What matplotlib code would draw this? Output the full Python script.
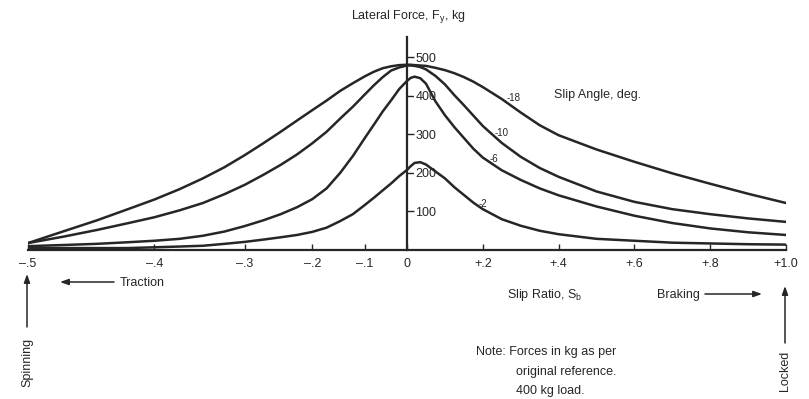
import numpy as np
import matplotlib
matplotlib.use("Agg")
import matplotlib.pyplot as plt

plt.rcParams['font.family'] = ['Liberation Sans', 'DejaVu Sans']
plt.rcParams['mathtext.fontset'] = 'custom'
plt.rcParams['mathtext.rm'] = 'Liberation Sans'

# ---- data ----
slip_ratio = [-0.5, -0.475, -0.45, -0.425, -0.4, -0.375, -0.35, -0.325, -0.3, -0.275,
              -0.25, -0.225, -0.2, -0.175, -0.15, -0.125, -0.1, -0.08, -0.06, -0.04,
              -0.02, 0.0, 0.01, 0.02, 0.035, 0.05, 0.075, 0.1, 0.125, 0.15,
              0.175, 0.2, 0.25, 0.3, 0.35, 0.4, 0.5, 0.6, 0.7, 0.8, 0.9, 1.0]
force_m18 = [18, 49, 77, 105, 131, 158, 186, 215, 246, 277,
             307, 336, 363, 388, 413, 433, 451, 463, 472, 477,
             480, 481, 481, 480, 479, 478, 473, 467, 459, 449,
             437, 423, 392, 357, 324, 298, 261, 229, 199, 172, 146, 122]
force_m10 = [18, 35, 52, 69, 85, 103, 122, 145, 169, 195,
             221, 248, 277, 307, 341, 372, 404, 428, 449, 466,
             474, 479, 479, 478, 475, 469, 452, 430, 402, 376,
             349, 322, 278, 242, 213, 190, 152, 125, 106, 93, 82, 73]
force_m6 = [10, 13, 16, 20, 24, 29, 37, 48, 62, 77,
            93, 111, 132, 160, 200, 244, 291, 326, 360, 389,
            418, 439, 447, 450, 446, 432, 386, 350, 319, 291,
            263, 240, 207, 182, 160, 142, 113, 89, 70, 56, 46, 39]
force_m2 = [5, 5, 5, 5, 7, 9, 11, 16, 21, 27,
            33, 39, 47, 58, 75, 93, 117, 136, 155, 173,
            192, 208, 218, 226, 228, 222, 204, 186, 163, 143,
            123, 106, 80, 63, 50, 41, 29, 24, 19, 17, 15, 14]
series = [("-18", force_m18), ("-10", force_m10), ("-6", force_m6), ("-2", force_m2)]

x_ticks = [-0.5, -0.4, -0.3, -0.2, -0.1, 0.0, 0.2, 0.4, 0.6, 0.8, 1.0]
x_tick_labels = ["\u2013.5", "\u2013.4", "\u2013.3", "\u2013.2", "\u2013.1", "0",
                 "+.2", "+.4", "+.6", "+.8", "+1.0"]
y_ticks = [100, 200, 300, 400, 500]
y_tick_labels = ["100", "200", "300", "400", "500"]

# curve label positions (slip ratio, force) in data units
curve_label_pos = {"-18": (0.28, 395), "-10": (0.25, 305), "-6": (0.23, 235), "-2": (0.2, 120)}

W, H = 809, 399
ink = '#262626'


def forward(s):
    s = np.asarray(s, dtype=float)
    return np.where(s < 0, s / np.maximum(1 + s, 1e-6), s)


def inverse(u):
    u = np.asarray(u, dtype=float)
    return np.where(u < 0, u / (1 - np.minimum(u, 0)), u)


fig = plt.figure(figsize=(W / 100, H / 100), dpi=100)
ax = fig.add_axes([28 / W, (H - 250) / H, (786 - 28) / W, (250 - 37) / H])
ax.set_xscale('function', functions=(forward, inverse))
ax.set_xlim(-0.5, 1.0)
ax.set_ylim(0, 553)

for name, vals in series:
    ax.plot(slip_ratio, vals, color=ink, lw=1.8, solid_capstyle='round',
            solid_joinstyle='round', zorder=2)

for name, (sx, fy) in curve_label_pos.items():
    ax.text(sx, fy, name, fontsize=7, color=ink, ha='center', va='center')

# axes styling
ax.spines['top'].set_visible(False)
ax.spines['left'].set_visible(False)
ax.spines['right'].set_position(('data', 0))
ax.spines['right'].set_linewidth(1.6)
ax.spines['right'].set_color(ink)
ax.spines['bottom'].set_linewidth(1.6)
ax.spines['bottom'].set_color(ink)

ax.yaxis.tick_right()
ax.set_yticks(y_ticks)
ax.set_yticklabels(y_tick_labels)
ax.tick_params(axis='y', direction='out', length=5, width=1, pad=1,
               labelsize=9, colors=ink)
for t in ax.get_yticklabels():
    if t.get_text() in ("400", "200"):
        t.set_bbox(dict(facecolor='white', edgecolor='none', pad=0.8))

ax.set_xticks(x_ticks)
ax.set_xticklabels(x_tick_labels)
ax.xaxis.set_minor_locator(matplotlib.ticker.NullLocator())
ax.tick_params(axis='x', direction='in', length=4, width=1, pad=6,
               labelsize=9, colors=ink)


def fx(x):
    return x / W


def fy(y):
    return 1 - y / H


fs = 9
fig.text(fx(408), fy(17), "Lateral Force, F$\\mathregular{_y}$, kg", fontsize=fs,
         ha='center', va='center', color=ink)
fig.text(fx(598), fy(95), "Slip Angle, deg.", fontsize=fs, ha='center', va='center', color=ink)
fig.text(fx(120), fy(283), "Traction", fontsize=fs, ha='left', va='center', color=ink)
fig.text(fx(545), fy(295), "Slip Ratio, S$\\mathregular{_b}$", fontsize=fs,
         ha='center', va='center', color=ink)
fig.text(fx(700), fy(295), "Braking", fontsize=fs, ha='right', va='center', color=ink)
fig.text(fx(476), fy(352), "Note: Forces in kg as per", fontsize=fs, ha='left', va='center', color=ink)
fig.text(fx(516), fy(372), "original reference.", fontsize=fs, ha='left', va='center', color=ink)
fig.text(fx(516), fy(391), "400 kg load.", fontsize=fs, ha='left', va='center', color=ink)
fig.text(fx(27), fy(362), "Spinning", fontsize=fs, ha='center', va='center',
         rotation=90, color=ink)
fig.text(fx(785), fy(371), "Locked", fontsize=fs, ha='center', va='center',
         rotation=90, color=ink)

arrow = dict(arrowstyle='-|>,head_length=0.5,head_width=0.18', color=ink, lw=1.1,
             shrinkA=0, shrinkB=0)
fig.add_artist(matplotlib.patches.FancyArrowPatch((fx(114), fy(282)), (fx(60), fy(282)),
               transform=fig.transFigure, mutation_scale=10, **arrow))
fig.add_artist(matplotlib.patches.FancyArrowPatch((fx(705), fy(294)), (fx(762), fy(294)),
               transform=fig.transFigure, mutation_scale=10, **arrow))
fig.add_artist(matplotlib.patches.FancyArrowPatch((fx(27), fy(327)), (fx(27), fy(274)),
               transform=fig.transFigure, mutation_scale=10, **arrow))
fig.add_artist(matplotlib.patches.FancyArrowPatch((fx(785), fy(343)), (fx(785), fy(286)),
               transform=fig.transFigure, mutation_scale=10, **arrow))

fig.savefig("out.png", dpi=100, facecolor='white')
